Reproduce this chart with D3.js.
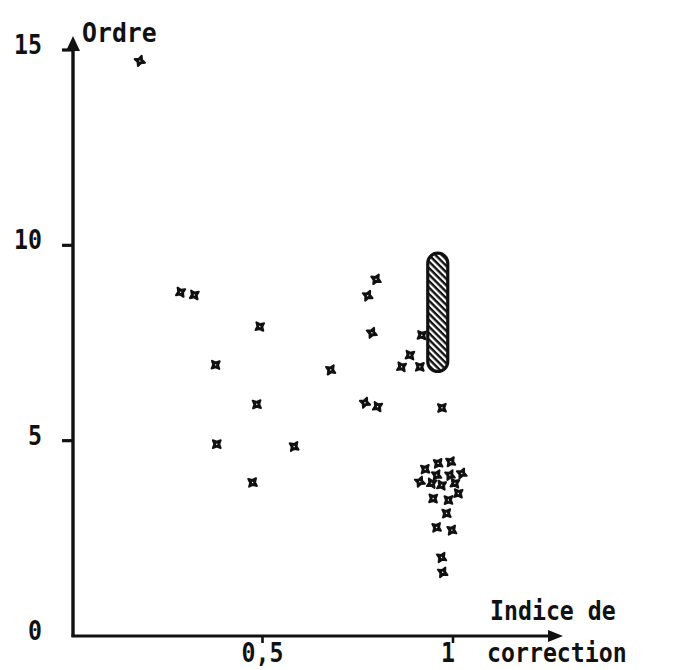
<!DOCTYPE html>
<html>
<head>
<meta charset="utf-8">
<script src="https://cdn.jsdelivr.net/npm/d3@7"></script>
<style>
  html, body { margin: 0; padding: 0; background: #fff; }
  svg { display: block; }
  .lbl { font-family: "DejaVu Sans Mono", "Liberation Mono", monospace; font-size: 27px; font-weight: bold; fill: #111; }
</style>
</head>
<body>
<svg id="chart" width="678" height="670"></svg>
<script>
// Indice de correction (x) against ordre (y)
const indice = [0.178, 0.285, 0.321, 0.493, 0.377, 0.380, 0.485, 0.474, 0.583, 0.679,
                0.798, 0.776, 0.787, 0.769, 0.802, 0.865, 0.887, 0.918, 0.913, 0.971,
                0.927, 0.961, 0.994, 0.957, 0.992, 1.023, 0.913, 0.944, 0.970, 1.005,
                1.014, 0.948, 0.988, 0.983, 0.957, 0.997, 0.970, 0.973];
const ordre  = [14.72, 8.80, 8.73, 7.92, 6.94, 4.91, 5.93, 3.93, 4.85, 6.81,
                9.13, 8.71, 7.76, 5.97, 5.87, 6.89, 7.19, 7.70, 6.89, 5.84,
                4.27, 4.42, 4.46, 4.12, 4.12, 4.16, 3.95, 3.91, 3.86, 3.91,
                3.65, 3.52, 3.48, 3.14, 2.78, 2.71, 2.01, 1.63];

// hatched band: indice ~0.96, ordre from 6.77 to 9.8
const bandIndice = 0.96;
const bandOrdre = [6.77, 9.8];

const xTickValues = [0.5, 1];
const xTickLabels = ["0,5", "1"];
const yTickValues = [0, 5, 10, 15];
const yTickLabels = ["0", "5", "10", "15"];
const yTitle = "Ordre";
const xTitle = ["Indice de", "correction"];

const svg = d3.select("#chart");
const x = d3.scaleLinear().domain([0, 1]).range([72, 453]);
const y = d3.scaleLinear().domain([0, 15]).range([636, 50]);
const ox = 73, oy = y(0);

// hatch pattern for the band
const defs = svg.append("defs");
const pat = defs.append("pattern")
  .attr("id", "hatch").attr("patternUnits", "userSpaceOnUse")
  .attr("width", 6).attr("height", 4.6)
  .attr("patternTransform", "rotate(45)");
pat.append("rect").attr("width", 6).attr("height", 4.6).attr("fill", "#fff");
pat.append("line").attr("x1", 0).attr("x2", 6).attr("y1", 1.2).attr("y2", 1.2)
  .attr("stroke", "#111").attr("stroke-width", 2.4);

// axes
const g = svg.append("g");
g.append("line").attr("x1", ox).attr("y1", oy + 1).attr("x2", ox).attr("y2", 46)
  .attr("stroke", "#111").attr("stroke-width", 3.4);
g.append("path").attr("d", `M${ox},36 L${ox - 7},51 L${ox + 7},51 Z`).attr("fill", "#111");
g.append("line").attr("x1", ox - 1.5).attr("y1", oy).attr("x2", 552).attr("y2", oy)
  .attr("stroke", "#111").attr("stroke-width", 3.2);
g.append("path").attr("d", `M563,${oy} L548,${oy - 6} L548,${oy + 6} Z`).attr("fill", "#111");

// ticks
g.selectAll(".yt").data(yTickValues.filter(v => v > 0)).join("line")
  .attr("x1", ox - 11).attr("x2", ox).attr("y1", d => y(d)).attr("y2", d => y(d))
  .attr("stroke", "#111").attr("stroke-width", 3.2);
g.selectAll(".xt").data(xTickValues).join("line")
  .attr("x1", d => x(d)).attr("x2", d => x(d)).attr("y1", oy).attr("y2", oy + 7)
  .attr("stroke", "#111").attr("stroke-width", 2.6);

// tick labels
const sx = 0.86;
g.selectAll(".ylab").data(yTickValues).join("text").attr("class", "lbl")
  .attr("text-anchor", "end").attr("dominant-baseline", "central")
  .attr("transform", d => `translate(42,${y(d) - 5}) scale(${sx},1)`)
  .text((d, i) => yTickLabels[i]);
g.selectAll(".xlab").data(xTickValues).join("text").attr("class", "lbl")
  .attr("text-anchor", "middle")
  .attr("transform", (d, i) => `translate(${x(d) - (i === 1 ? 5 : 0)},${oy + 26}) scale(${sx},1)`)
  .text((d, i) => xTickLabels[i]);

// axis titles
g.append("text").attr("class", "lbl").attr("transform", `translate(82,42) scale(0.92,1)`).text(yTitle);
g.append("text").attr("class", "lbl").attr("transform", `translate(490,620) scale(${sx},1)`).text(xTitle[0]);
g.append("text").attr("class", "lbl").attr("transform", `translate(487,662) scale(${sx},1)`).text(xTitle[1]);

// hatched band
const bw = 20;
svg.append("rect")
  .attr("x", x(bandIndice) - bw / 2).attr("y", y(bandOrdre[1]))
  .attr("width", bw).attr("height", y(bandOrdre[0]) - y(bandOrdre[1]))
  .attr("rx", bw / 2).attr("ry", bw / 2)
  .attr("fill", "url(#hatch)").attr("stroke", "#111").attr("stroke-width", 3.2);

// four-pointed star marker
const star4 = {
  draw(ctx, size) {
    const r = Math.sqrt(size), ri = r * 0.45;
    for (let i = 0; i < 8; i++) {
      const a = i * Math.PI / 4 - Math.PI / 2;
      const rr = i % 2 ? ri : r;
      const px = rr * Math.cos(a), py = rr * Math.sin(a);
      if (i === 0) ctx.moveTo(px, py); else ctx.lineTo(px, py);
    }
    ctx.closePath();
  }
};
const sym = d3.symbol().type(star4).size(30);
const pts = svg.append("g").selectAll("g").data(indice.map((v, i) => [v, ordre[i]])).join("g")
  .attr("transform", (d, i) => `translate(${x(d[0])},${y(d[1])}) rotate(${20 + (i * 37) % 40})`);
pts.append("path").attr("d", sym()).attr("fill", "#111").attr("stroke", "#111").attr("stroke-width", 2).attr("stroke-linejoin", "round");
pts.append("circle").attr("r", 0.7).attr("fill", "#fff");
</script>
</body>
</html>
